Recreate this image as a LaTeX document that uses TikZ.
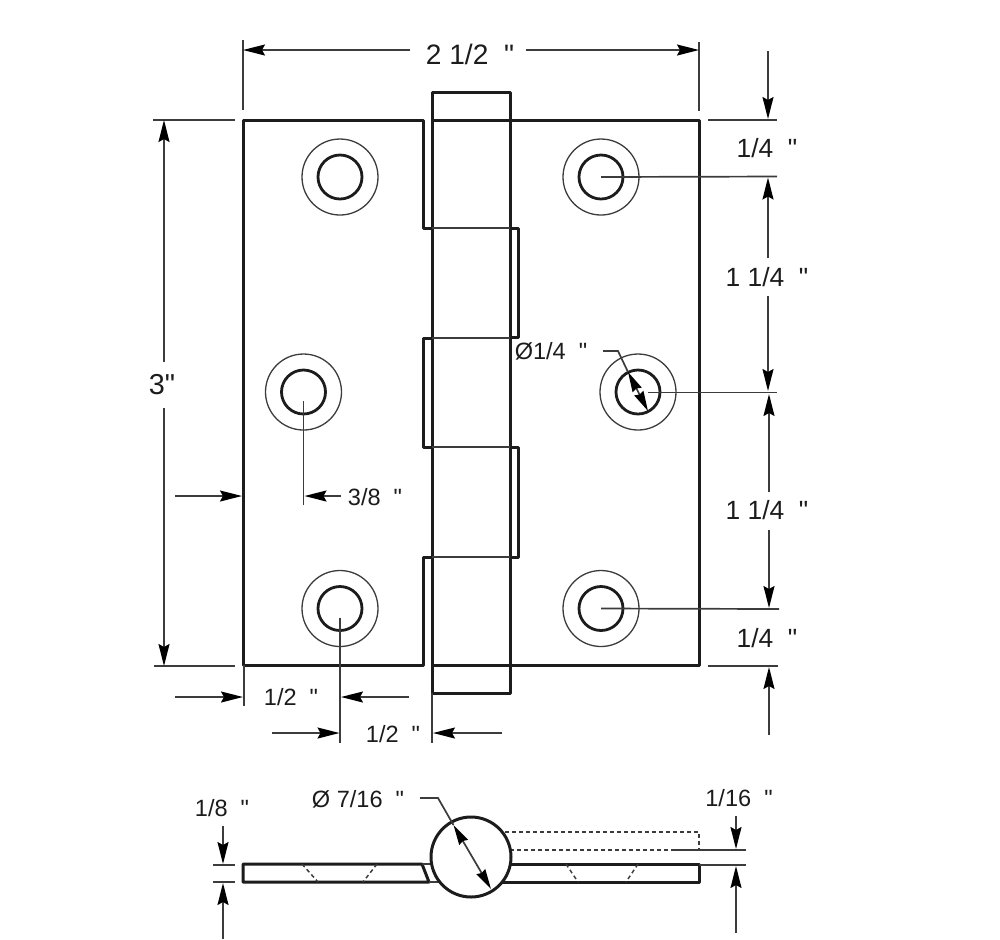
\documentclass[tikz,border=0pt]{standalone}
\usepackage{fontspec}
\newfontfamily\dimfont{Liberation Sans} % no tex ligatures, keeps the straight quote
\usetikzlibrary{arrows.meta}
\definecolor{inkdark}{HTML}{1C1C1C}
\definecolor{inkdim}{HTML}{3C3C3C}
\tikzset{
    outline/.style={inkdark,line width=0.3mm,line join=round},
    inner/.style={inkdim,line width=0.17mm},
    extline/.style={inkdim,line width=0.17mm},
    hidden/.style={inkdim,line width=0.15mm,dash pattern=on 0.4mm off 0.3mm},
    dimarrow/.style={inkdim,line width=0.17mm,-{Stealth[length=2.2mm,width=1.1mm,inset=0.3mm,color=black]}},
    dimboth/.style={inkdim,line width=0.17mm,{Stealth[length=2mm,width=1mm,inset=0.15mm,color=black]}-{Stealth[length=2mm,width=1mm,inset=0.15mm,color=black]}},
    holering/.style={circle,draw=inkdim,line width=0.13mm,minimum size=7.6mm,inner sep=0pt},
    holebore/.style={circle,draw=inkdark,line width=0.28mm,minimum size=4.4mm,inner sep=0pt},
    dimlabel/.style={text=inkdark,inner sep=0pt,font=\dimfont\fontsize{7.5pt}{9pt}\selectfont},
    dimsmall/.style={text=inkdark,inner sep=0pt,font=\dimfont\fontsize{6.7pt}{8pt}\selectfont},
}
\begin{document}
\begin{tikzpicture}[x=0.1mm,y=-0.1mm]
    \useasboundingbox (0,0) rectangle (1000,939);
    % holes of the front view
    \foreach \name/\x/\y in {A/340/177,B/303.5/392,C/340/608.5,D/601/177,E/638/392,F/601/608.5}{
        \node[holering] (ring\name) at (\x,\y) {};
        \node[holebore] (bore\name) at (\x,\y) {};
    }
    % leaves and knuckles
    \draw[outline] (432,228) -- (423,228) -- (423,120) -- (243,120) -- (243,665) -- (423,665) -- (423,557) -- (432,557);
    \draw[outline] (510,228) -- (518,228) -- (518,337) -- (510,337);
    \draw[outline] (432,338) -- (423,338) -- (423,447) -- (432,447);
    \draw[outline] (510,447) -- (518,447) -- (518,557) -- (510,557);
    \draw[outline] (432,120) -- (699,120) -- (699,665) -- (432,665);
    \draw[outline] (432,92) rectangle (510,693); % pin
    \foreach \y in {228,338,447,557}{
        \draw[inner] (432,\y) -- (510,\y);
    }
    % side view
    \draw[outline] (243,864) -- (422,864) -- (429,882) -- (243,882) -- cycle;
    \draw[outline] (500,864) -- (699,864) -- (699,882) -- (500,882);
    \draw[extline] (422,864) -- (434,864) (429,882) -- (442,882);
    \draw[hidden] (302,864) -- (318,882) (377,864) -- (363,882);
    \draw[hidden] (566,864) -- (578,882) (638,864) -- (626,882);
    \draw[hidden] (505,832) -- (699,832) -- (699,850) -- (675,850);
    \draw[hidden] (675,850) -- (508,850);
    \node[circle,draw=inkdark,fill=white,line width=0.3mm,minimum size=8mm,inner sep=0pt] (knuckle) at (471,857) {};
    % free ends of the dimension lines
    \foreach \n/\x/\y in {
        wideA/243/40, wideB/243/110, wideC/699/42, wideD/699/111, wideL/243/50, wideR/699/50, wideM/410/50, wideN/526/50,
        tallA/153/120, tallB/235/120, tallC/154/666, tallD/235/666, tallT/164/120, tallB2/164/666, tallM/164/362, tallN/164/408,
        rA/708/120, rB/777/120, rC/777/176.5, rD/777/392.5, rE/779/609, rF/708/666, rG/778/666,
        aT/768/51, aU/768/119, aV/768/258, aW/768/177.5, aX/768/296, aY/768/391, aZ/769/492, aQ/769/394,
        bA/769/530, bB/769/608, bC/769/735, bD/769/667,
        sA/175/496, sB/242/496, sC/341/496, sD/304.5/496, sE/303.5/505,
        uA/244/665, uB/244/706, uC/175/697, uD/243/697, uE/409/697, uF/341/697, uG/340/743,
        uH/272/733, uI/339.5/733, uJ/502/733, uK/433/733, uL/432/693, uM/432/743,
        nA/603/351, nB/618/351, nC/628/372, nD/648/411,
        mA/420/798, mB/438/798, mC/453.5/825, mD/491/889,
        eA/213/865, eB/235/865, eC/213/882, eD/235/882, eE/223/826, eF/223/864, eG/223/939, eH/223/883,
        gA/675/850, gB/746/850, gC/699/865, gD/746/865, gE/736/816, gF/736/849, gG/736/933, gH/736/866}{
        \coordinate (\n) at (\x,\y);
    }
    % labels
    \node[dimlabel,font=\dimfont\fontsize{8pt}{9pt}\selectfont] (labWide) at (470,54) {2 1/2\ \ "};
    \node[dimlabel,font=\dimfont\fontsize{8.2pt}{9pt}\selectfont] (labTall) at (162,385) {3"};
    \node[dimlabel] (labTop) at (767,148) {1/4\ \ "};
    \node[dimlabel] (labUp) at (767,277) {1 1/4\ \ "};
    \node[dimlabel] (labLow) at (767,510) {1 1/4\ \ "};
    \node[dimlabel] (labBot) at (767,638) {1/4\ \ "};
    \node[dimsmall] (labBoss) at (375,497) {3/8\ \ "};
    \node[dimsmall] (labEdge) at (291,697) {1/2\ \ "};
    \node[dimsmall] (labPin) at (393,734) {1/2\ \ "};
    \node[dimsmall] (labBore) at (551,351) {Ø1/4\ \ "};
    \node[dimsmall] (labKnuckle) at (358,799) {Ø 7/16\ \ "};
    \node[dimsmall] (labLeaf) at (222,808) {1/8\ \ "};
    \node[dimsmall] (labOpen) at (739,798) {1/16\ \ "};
    % overall width and height
    \draw[extline] (wideA) -- (wideB);
    \draw[extline] (wideC) -- (wideD);
    \draw[dimarrow] (wideM) -- (wideL);
    \draw[dimarrow] (wideN) -- (wideR);
    \draw[extline] (tallA) -- (tallB);
    \draw[extline] (tallC) -- (tallD);
    \draw[dimarrow] (tallM) -- (tallT);
    \draw[dimarrow] (tallN) -- (tallB2);
    % right hand chain
    \draw[extline] (rA) -- (rB);
    \draw[extline] (boreD.center) -- (rC);
    \draw[extline] (boreE.center) ++(10,0.5) -- (rD);
    \draw[extline] (boreF.center) -- (rE);
    \draw[extline] (rF) -- (rG);
    \draw[dimarrow] (aT) -- (aU);
    \draw[dimarrow] (aV) -- (aW);
    \draw[dimarrow] (aX) -- (aY);
    \draw[dimarrow] (aZ) -- (aQ);
    \draw[dimarrow] (bA) -- (bB);
    \draw[dimarrow] (bC) -- (bD);
    % hole offsets
    \draw[extline] (boreB.center) ++(0,9) -- (sE);
    \draw[dimarrow] (sA) -- (sB);
    \draw[dimarrow] (sC) -- (sD);
    \draw[extline] (uA) -- (uB);
    \draw[extline] (boreC.center) ++(0,9) -- (uG);
    \draw[extline] (uL) -- (uM);
    \draw[dimarrow] (uC) -- (uD);
    \draw[dimarrow] (uE) -- (uF);
    \draw[dimarrow] (uH) -- (uI);
    \draw[dimarrow] (uJ) -- (uK);
    % diameters
    \draw[extline] (nA) -- (nB) -- (nC);
    \draw[dimboth] (nC) -- (nD);
    \draw[extline] (mA) -- (mB) -- (mC);
    \draw[dimboth] (mC) -- (mD);
    % side view thicknesses
    \draw[extline] (eA) -- (eB);
    \draw[extline] (eC) -- (eD);
    \draw[dimarrow] (eE) -- (eF);
    \draw[dimarrow] (eG) -- (eH);
    \draw[extline,line width=0.2mm] (gA) -- (gB);
    \draw[extline] (gC) -- (gD);
    \draw[dimarrow] (gE) -- (gF);
    \draw[dimarrow] (gG) -- (gH);
\end{tikzpicture}
\end{document}
